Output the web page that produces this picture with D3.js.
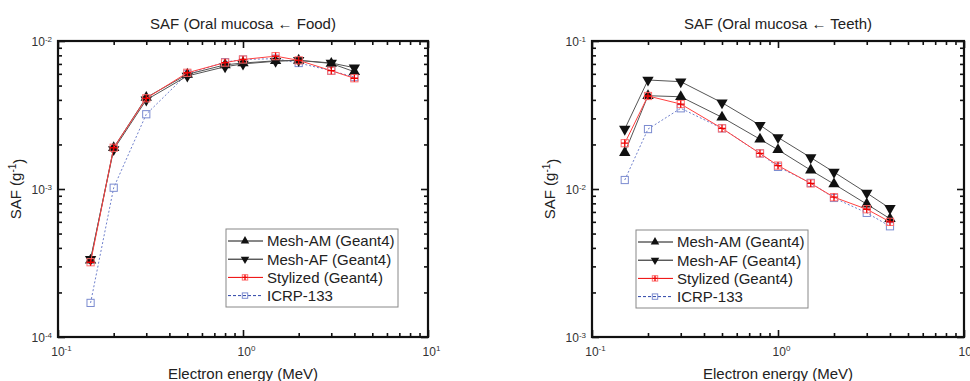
<!DOCTYPE html>
<html lang="en">
<head>
<meta charset="UTF-8">
<title>SAF Oral mucosa</title>
<script src="https://d3js.org/d3.v7.min.js"></script>
<style>
    body { margin: 0; background: #fff; }
    svg { font-family: 'Liberation Sans', Arial, sans-serif; }
    .tick line { stroke: #111; }
</style>
</head>
<body>
<div id="chart"></div>
<script>
    const width = 970, height = 381;

    // electron energies (MeV)
    const energies = [0.15, 0.2, 0.3, 0.5, 0.8, 1, 1.5, 2, 3, 4];

    // Oral mucosa <- Food
    const foodAM   = [3.3e-4, 1.9e-3, 4.15e-3, 5.95e-3, 6.9e-3, 7.1e-3, 7.35e-3, 7.4e-3, 7.05e-3, 6.2e-3];
    const foodAF   = [3.35e-4, 1.85e-3, 4.0e-3, 5.8e-3, 6.7e-3, 7.0e-3, 7.3e-3, 7.4e-3, 7.1e-3, 6.6e-3];
    const foodSty  = [3.2e-4, 1.9e-3, 4.1e-3, 6.1e-3, 7.15e-3, 7.5e-3, 7.9e-3, 7.4e-3, 6.3e-3, 5.6e-3];
    const foodICRP = [1.7e-4, 1.02e-3, 3.2e-3, 6.0e-3, 7.2e-3, 7.5e-3, 7.6e-3, 7.1e-3, 6.3e-3, 5.7e-3];

    // Oral mucosa <- Teeth
    const teethAM   = [0.0176, 0.0427, 0.042, 0.0305, 0.0217, 0.0184, 0.0134, 0.0108, 0.0079, 0.0063];
    const teethAF   = [0.0254, 0.0545, 0.0531, 0.0383, 0.027, 0.0223, 0.0163, 0.013, 0.0094, 0.0074];
    const teethSty  = [0.0204, 0.0425, 0.0375, 0.0257, 0.0174, 0.0144, 0.0109, 0.0088, 0.0073, 0.0060];
    const teethICRP = [0.0115, 0.0254, 0.0351, 0.0257, 0.0174, 0.0141, 0.011, 0.0087, 0.0069, 0.0056];

    const seriesNames = ["Mesh-AM (Geant4)", "Mesh-AF (Geant4)", "Stylized (Geant4)", "ICRP-133"];

    const svg = d3.select("#chart").append("svg")
        .attr("width", width).attr("height", height);

    const styles = {
        "Mesh-AM (Geant4)":  { line: "#555", dash: null, marker: "up" },
        "Mesh-AF (Geant4)":  { line: "#555", dash: null, marker: "down" },
        "Stylized (Geant4)": { line: "#ff4040", dash: null, marker: "plus" },
        "ICRP-133":          { line: "#6f80cc", dash: "2,2", marker: "square" }
    };

    function drawMarker(g, type, px, py, scale) {
        const m = g.append("g").attr("transform", `translate(${px},${py})`);
        if (type === "up" || type === "down") {
            m.append("path")
                .attr("d", d3.symbol(d3.symbolTriangle, 56 * scale * scale)())
                .attr("transform", type === "down" ? "rotate(180)" : null)
                .attr("fill", "#111");
        } else if (type === "plus") {
            const s = 3.6 * scale;
            m.append("rect").attr("x", -s).attr("y", -s).attr("width", 2 * s).attr("height", 2 * s)
                .attr("fill", "none").attr("stroke", "#ff7070").attr("stroke-width", 1);
            m.append("path").attr("d", `M${-s},0H${s}M0,${-s}V${s}`)
                .attr("stroke", "#ee0000").attr("stroke-width", 1.3);
        } else {
            const s = 3.6 * scale;
            m.append("rect").attr("x", -s).attr("y", -s).attr("width", 2 * s).attr("height", 2 * s)
                .attr("fill", "none").attr("stroke", "#7b8bd0").attr("stroke-width", 1);
        }
    }

    function supLabel(sel, exp) {
        sel.text("10");
        sel.append("tspan").attr("dy", "-0.6em").attr("font-size", "8px").text(exp);
    }

    function drawPanel(cfg) {
        const x = d3.scaleLog().domain([0.1, 10]).range([cfg.x0, cfg.x1]);
        const y = d3.scaleLog().domain(cfg.ydom).range([337, 41]);
        const g = svg.append("g");

        const majX = [0.1, 1, 10];
        const minX = [];
        [0.1, 1].forEach(d => { for (let k = 2; k <= 9; k++) minX.push(d * k); });
        const majY = [], minY = [];
        for (let e = Math.log10(cfg.ydom[0]); e <= Math.log10(cfg.ydom[1]); e++) majY.push(Math.pow(10, e));
        majY.slice(0, -1).forEach(d => { for (let k = 2; k <= 9; k++) minY.push(d * k); });

        const fmt = d => Math.round(Math.log10(d));

        // minor ticks, all four sides
        g.append("g").attr("transform", `translate(0,337)`).call(d3.axisBottom(x).tickValues(minX).tickSize(-4).tickFormat(""));
        g.append("g").attr("transform", `translate(0,41)`).call(d3.axisTop(x).tickValues(minX).tickSize(-4).tickFormat(""));
        g.append("g").attr("transform", `translate(${cfg.x0},0)`).call(d3.axisLeft(y).tickValues(minY).tickSize(-4).tickFormat(""));
        g.append("g").attr("transform", `translate(${cfg.x1},0)`).call(d3.axisRight(y).tickValues(minY).tickSize(-4).tickFormat(""));

        // major ticks
        const bx = g.append("g").attr("transform", `translate(0,337)`)
            .call(d3.axisBottom(x).tickValues(majX).tickSize(-7).tickPadding(8).tickFormat(fmt));
        g.append("g").attr("transform", `translate(0,41)`).call(d3.axisTop(x).tickValues(majX).tickSize(-7).tickFormat(""));
        const ly = g.append("g").attr("transform", `translate(${cfg.x0},0)`)
            .call(d3.axisLeft(y).tickValues(majY).tickSize(-7).tickPadding(6).tickFormat(fmt));
        g.append("g").attr("transform", `translate(${cfg.x1},0)`).call(d3.axisRight(y).tickValues(majY).tickSize(-7).tickFormat(""));

        g.selectAll(".domain").remove();
        g.selectAll(".tick line").attr("stroke", "#111").attr("stroke-width", 1.6);

        [bx, ly].forEach(ax => {
            ax.selectAll("text").attr("font-size", "12px").attr("fill", "#333")
                .attr("font-family", "'Liberation Sans', Arial, sans-serif")
                .each(function (d) { supLabel(d3.select(this), fmt(d)); });
        });
        bx.selectAll("text").attr("dy", "0.9em").attr("dx", "3px");
        ly.selectAll("text").attr("dy", "0.4em");

        // frame
        g.append("rect").attr("x", cfg.x0).attr("y", 41)
            .attr("width", cfg.x1 - cfg.x0).attr("height", 296)
            .attr("fill", "none").attr("stroke", "#111").attr("stroke-width", 2.2);

        // series: ICRP first, stylized on top
        const line = d3.line().x((d, i) => x(energies[i])).y(d => y(d));
        [3, 0, 1, 2].forEach(si => {
            const name = seriesNames[si];
            const st = styles[name];
            const vals = cfg.series[si];
            g.append("path").datum(vals).attr("d", line)
                .attr("fill", "none").attr("stroke", st.line).attr("stroke-width", 1)
                .attr("stroke-dasharray", st.dash);
            vals.forEach((v, i) => drawMarker(g, st.marker, x(energies[i]), y(v), 1));
        });

        // title
        g.append("text").attr("x", (cfg.x0 + cfg.x1) / 2).attr("y", 29)
            .attr("text-anchor", "middle").attr("font-size", "15px").attr("fill", "#222")
            .text(cfg.title);

        // axis labels
        g.append("text").attr("x", (cfg.x0 + cfg.x1) / 2).attr("y", 379)
            .attr("text-anchor", "middle").attr("font-size", "15px").attr("fill", "#222")
            .text("Electron energy (MeV)");
        const yl = g.append("text")
            .attr("transform", `translate(${cfg.x0 - 37},189) rotate(-90)`)
            .attr("text-anchor", "middle").attr("font-size", "15px").attr("fill", "#222")
            .text("SAF (g");
        yl.append("tspan").attr("dy", "-0.5em").attr("font-size", "10px").text("-1");
        yl.append("tspan").attr("dy", "0.5em").text(")");

        // legend
        const lg = g.append("g").attr("transform", `translate(${cfg.lx},${cfg.ly})`);
        lg.append("rect").attr("width", 172).attr("height", 78)
            .attr("fill", "#fff").attr("stroke", "#888").attr("stroke-width", 1);
        seriesNames.forEach((name, i) => {
            const st = styles[name];
            const ry = 12 + i * 18.2;
            lg.append("line").attr("x1", 2).attr("x2", 37).attr("y1", ry).attr("y2", ry)
                .attr("stroke", name === "ICRP-133" ? "#2c44a8" : (name.startsWith("Mesh") ? "#111" : "#ee0000"))
                .attr("stroke-width", 1).attr("stroke-dasharray", name === "ICRP-133" ? "3,2" : null);
            drawMarker(lg, st.marker, 19, ry, 0.75);
            lg.append("text").attr("x", 41).attr("y", ry).attr("dy", "0.36em")
                .attr("font-size", "15px").attr("fill", "#222").text(name);
        });
    }

    drawPanel({
        x0: 58, x1: 428, ydom: [1e-4, 1e-2],
        title: "SAF (Oral mucosa \u2190 Food)",
        series: [foodAM, foodAF, foodSty, foodICRP],
        lx: 226, ly: 229
    });
    drawPanel({
        x0: 592, x1: 964, ydom: [1e-3, 1e-1],
        title: "SAF (Oral mucosa \u2190 Teeth)",
        series: [teethAM, teethAF, teethSty, teethICRP],
        lx: 636, ly: 230
    });
</script>
</body>
</html>
